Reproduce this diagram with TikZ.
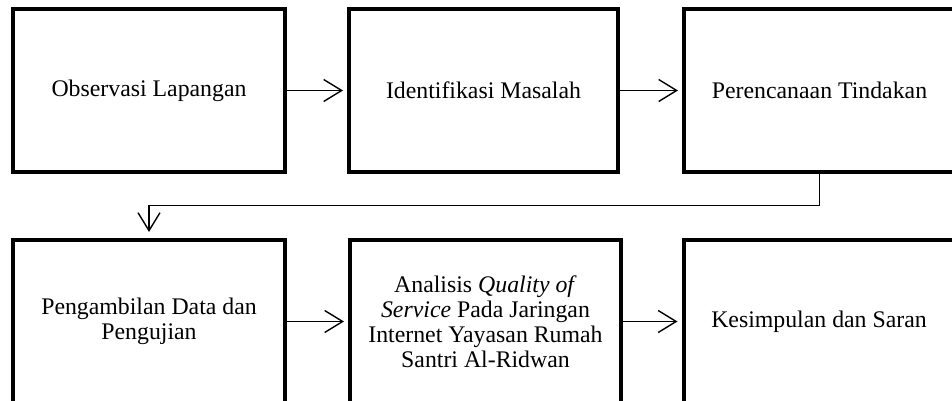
\documentclass[tikz,border=0pt]{standalone}
\usepackage{fontspec}
\setmainfont{Liberation Serif}
\usetikzlibrary{arrows.meta}
\begin{document}
\begin{tikzpicture}[x=1pt,y=-1pt,
  stepbox/.style={draw, line width=4pt, minimum width=271pt, minimum height=162pt, inner sep=0pt, outer sep=0pt,
    align=center, font=\fontsize{23.8}{25}\selectfont, text=black},
  conn/.style={line width=1.4pt, -{Straight Barb[length=18pt,width=22pt,line width=1.4pt]}, shorten >=6pt}
]
\useasboundingbox (0,0) rectangle (952,401);
\clip (0,0) rectangle (952,401);
\node[stepbox, minimum width=272pt] (a) at (149,90.5) {Observasi Lapangan};
\node[stepbox, minimum width=269pt] (b) at (483.5,90.5) {Identifikasi Masalah};
\node[stepbox] (c) at (819.5,90.5) {Perencanaan Tindakan};
\node[stepbox, minimum width=272pt, minimum height=163pt] (d) at (149,321.5) {Pengambilan Data dan\\Pengujian};
\node[stepbox, minimum height=163pt] (e) at (485.5,321.5) {Analisis \textit{Quality of}\\\textit{Service} Pada Jaringan\\Internet Yayasan Rumah\\Santri Al-Ridwan};
\node[stepbox, minimum height=163pt] (f) at (819,321.5) {Kesimpulan dan Saran};
\draw[conn] (a.east) -- (b.west);
\draw[conn] (b.east) -- (c.west);
\draw[conn] (d.east) -- (e.west);
\draw[conn] (e.east) -- (f.west);
\coordinate (k1) at (819.5,205.5);
\coordinate (k2) at (149,205.5);
\draw[conn, shorten >=8pt] (c.south) -- (k1) -- (k2) -- (d.north);
\end{tikzpicture}
\end{document}
